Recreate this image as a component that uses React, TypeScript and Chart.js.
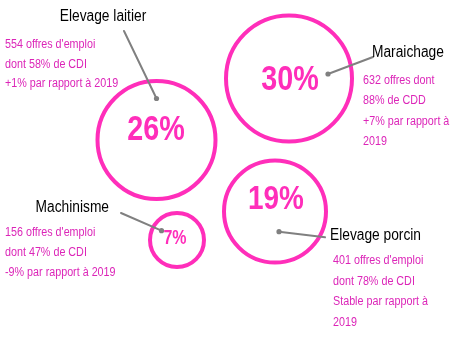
import { useEffect, useRef } from "react";
import { Chart, registerables } from "chart.js";

Chart.register(...registerables);

// ---- data ----
const categories = ["Elevage laitier", "Maraichage", "Machinisme", "Elevage porcin"];
const shares = [26, 30, 7, 19]; // % shown in each bubble
const bubbleX = [156.5, 289, 177, 275];
const bubbleY = [140, 78.5, 240, 211.5];
const bubbleR = [59, 63, 27, 51];
const details = [
  ["554 offres d'emploi", "dont 58% de CDI", "+1% par rapport à 2019"],
  ["632 offres dont", "88% de CDD", "+7% par rapport à", "2019"],
  ["156 offres d'emploi", "dont 47% de CDI", "-9% par rapport à 2019"],
  ["401 offres d'emploi", "dont 78% de CDI", "Stable par rapport à", "2019"],
];

// ---- annotation layout (styles / positions, not data) ----
const PINK = "#ff2eba";
const TEXT_PINK = "#dc25b8";
const FONT = '"Liberation Sans", Arial, sans-serif';
const NARROW = 0.86;
const NARROW_BOLD = 0.82;

type Layout = {
  pctDx: number; pctDy: number; pctSize: number;
  nameX: number; nameY: number; nameAlign: CanvasTextAlign;
  lineFrom: [number, number]; lineTo: [number, number];
  textX: number; textY: number; textStep: number;
};

const layouts: Layout[] = [
  { pctDx: -0.5, pctDy: -10, pctSize: 35, nameX: 103, nameY: 21, nameAlign: "center",
    lineFrom: [156.5, 98.5], lineTo: [124, 31], textX: 5, textY: 48, textStep: 19.7 },
  { pctDx: 1, pctDy: 1.5, pctSize: 35, nameX: 372, nameY: 57, nameAlign: "left",
    lineFrom: [328, 74], lineTo: [373, 57], textX: 363, textY: 84, textStep: 20.4 },
  { pctDx: -2, pctDy: -1, pctSize: 19.5, nameX: 109, nameY: 212, nameAlign: "right",
    lineFrom: [161.5, 230.7], lineTo: [121, 213], textX: 5, textY: 236, textStep: 20 },
  { pctDx: 1, pctDy: -11.5, pctSize: 34, nameX: 330, nameY: 240, nameAlign: "left",
    lineFrom: [279, 231.7], lineTo: [325, 237.3], textX: 333, textY: 264, textStep: 20.5 },
];

function narrowText(ctx: CanvasRenderingContext2D, text: string, x: number, y: number, sx: number) {
  ctx.save();
  ctx.translate(x, y);
  ctx.scale(sx, 1);
  ctx.fillText(text, 0, 0);
  ctx.restore();
}

const annotations = {
  id: "bubbleAnnotations",
  afterDatasetsDraw(chart: any) {
    const ctx: CanvasRenderingContext2D = chart.ctx;
    const xs = chart.scales.x;
    const ys = chart.scales.y;
    const meta = chart.getDatasetMeta(0);
    ctx.save();
    categories.forEach((name, i) => {
      const L = layouts[i];
      const el = meta.data[i];
      // percentage
      ctx.fillStyle = PINK;
      ctx.font = `bold ${L.pctSize}px ${FONT}`;
      ctx.textAlign = "center";
      ctx.textBaseline = "middle";
      narrowText(ctx, `${shares[i]}%`, el.x + L.pctDx, el.y + L.pctDy, NARROW_BOLD);
      // leader line
      const fx = xs.getPixelForValue(L.lineFrom[0]);
      const fy = ys.getPixelForValue(L.lineFrom[1]);
      const tx = xs.getPixelForValue(L.lineTo[0]);
      const ty = ys.getPixelForValue(L.lineTo[1]);
      ctx.strokeStyle = "#808080";
      ctx.lineWidth = 2;
      ctx.lineCap = "round";
      ctx.beginPath();
      ctx.moveTo(fx, fy);
      ctx.lineTo(tx, ty);
      ctx.stroke();
      ctx.fillStyle = "#808080";
      ctx.beginPath();
      ctx.arc(fx, fy, 2.6, 0, Math.PI * 2);
      ctx.fill();
      // name
      ctx.fillStyle = "#000000";
      ctx.font = `16px ${FONT}`;
      ctx.textAlign = L.nameAlign;
      ctx.textBaseline = "alphabetic";
      narrowText(ctx, name, xs.getPixelForValue(L.nameX), ys.getPixelForValue(L.nameY), NARROW);
      // details
      ctx.fillStyle = TEXT_PINK;
      ctx.font = `12.5px ${FONT}`;
      ctx.textAlign = "left";
      details[i].forEach((line, j) => {
        narrowText(ctx, line, xs.getPixelForValue(L.textX), ys.getPixelForValue(L.textY + j * L.textStep), NARROW);
      });
    });
    ctx.restore();
  },
};

export default function App() {
  const ref = useRef<HTMLCanvasElement>(null);
  useEffect(() => {
    if (!ref.current) return;
    const chart = new Chart(ref.current, {
      type: "bubble",
      data: {
        labels: categories,
        datasets: [
          {
            data: categories.map((_, i) => ({ x: bubbleX[i], y: bubbleY[i], r: bubbleR[i] })),
            backgroundColor: "rgba(0,0,0,0)",
            borderColor: PINK,
            borderWidth: 4,
            hoverRadius: 0,
            hoverBorderWidth: 4,
          } as any,
        ],
      },
      options: {
        responsive: false,
        animation: false,
        events: [],
        layout: { padding: 0, autoPadding: false },
        clip: false as any,
        plugins: { legend: { display: false }, tooltip: { enabled: false } },
        scales: {
          x: { type: "linear", min: 0, max: 458, display: false },
          y: { type: "linear", min: 0, max: 364, reverse: true, display: false },
        },
      },
      plugins: [annotations],
    });
    return () => chart.destroy();
  }, []);
  return (
    <div style={{ position: "absolute", left: 0, top: 0, width: 458, height: 364, background: "#fff" }}>
      <canvas ref={ref} width={458} height={364} style={{ display: "block" }} />
    </div>
  );
}
